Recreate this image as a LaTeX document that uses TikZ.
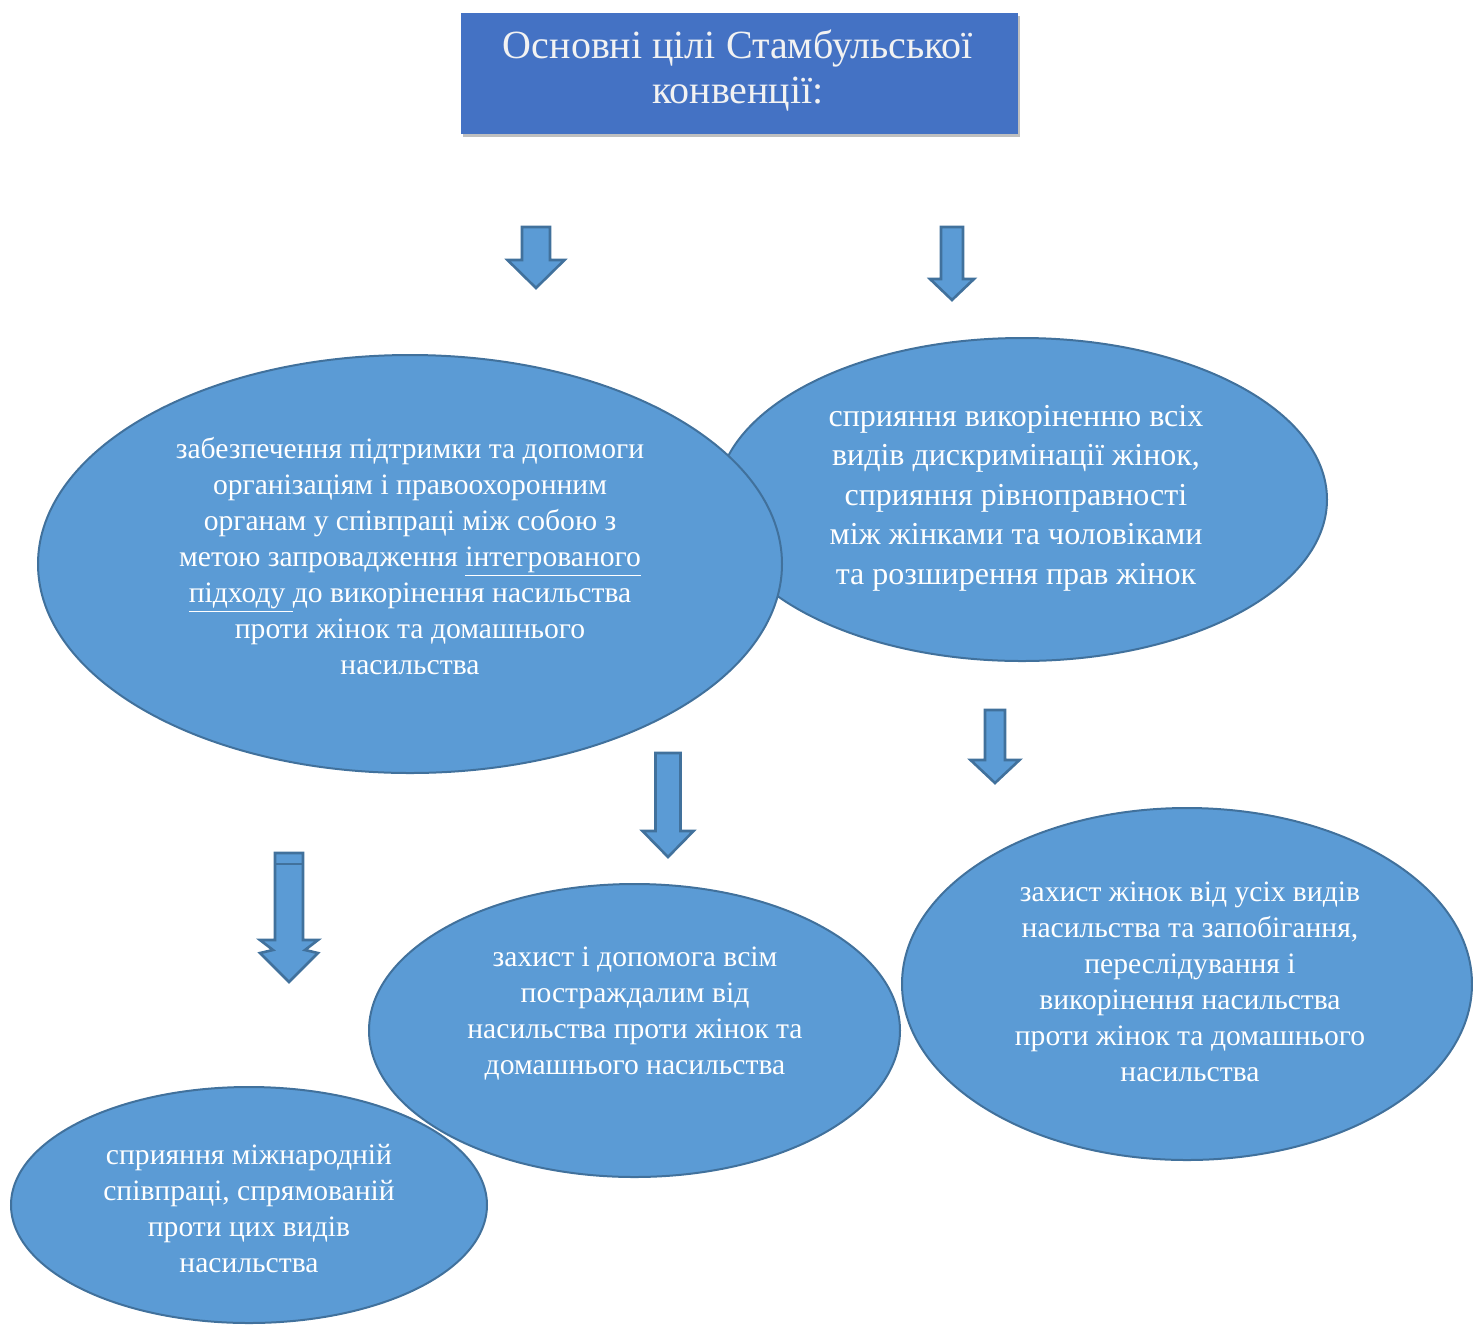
\documentclass[tikz,border=0pt]{standalone}
\usepackage{fontspec}
\setmainfont{Liberation Serif}
\usetikzlibrary{positioning,shapes.geometric}

\definecolor{goalfill}{HTML}{5B9BD5}
\definecolor{goalline}{HTML}{41719C}
\definecolor{titlefill}{HTML}{4472C4}

% block arrow pointing down: x, top, head start, tip, half shaft, half head
\newcommand{\downblock}[6]{%
  \draw[arrowbox] (#1-#5,#2) -- (#1+#5,#2) -- (#1+#5,#3) -- (#1+#6,#3)
    -- (#1,#4) -- (#1-#6,#3) -- (#1-#5,#3) -- cycle;}

\begin{document}
\begin{tikzpicture}[x=0.5pt,y=-0.5pt]
	\tikzset{
		goal/.style={ellipse,draw=goalline,fill=goalfill,line width=1pt,inner sep=0pt},
		goaltext/.style={text=white,align=center,inner sep=0pt,font=\fontsize{14.8pt}{18pt}\selectfont},
		arrowbox/.style={draw=goalline,fill=goalfill,line width=1.3pt,line join=miter}
	}
	\useasboundingbox (0,0) rectangle (1473,1324);
	% title
	\fill[black!25] (463,16) rectangle (1020,137);
	\node[rectangle,fill=titlefill,minimum width=278.5pt,minimum height=60.5pt,inner sep=0pt] (title) at (739,73.5) {};
	\node[text=black!5,align=center,font=\fontsize{20pt}{22.5pt}\selectfont] (titletext) at (738,71) {Основні цілі Стамбульської\\ конвенції:};
	% arrows
	\downblock{536}{227}{260}{288}{14}{28.5}
	\downblock{952}{227}{279}{300}{11}{22}
	\downblock{668}{753}{831}{857}{12.5}{25.5}
	\downblock{995}{710}{760}{783}{10}{24.5}
	\draw[arrowbox] (275,853) -- (303,853) -- (303,940) -- (318,940) -- (305,950) -- (318,953)
		-- (289,982) -- (260,953) -- (273,950) -- (260,940) -- (275,940) -- cycle;
	\draw[goalline,line width=1.3pt] (275,864) -- (303,864);
	% goals
	\node[goal,minimum width=305pt,minimum height=161.5pt] (e2) at (1022,499.5) {};
	\node[goal,minimum width=372pt,minimum height=209pt] (e1) at (410,564) {};
	\node[goal,minimum width=265.5pt,minimum height=146.5pt] (e3) at (634.5,1030.5) {};
	\node[goal,minimum width=285pt,minimum height=176pt] (e4) at (1187,984) {};
	\node[goal,minimum width=238pt,minimum height=118pt] (e5) at (249,1205) {};
	\node[goaltext] (t1) at (410,556) {забезпечення підтримки та допомоги\\ організаціям і правоохоронним\\ органам у співпраці між собою з\\ метою запровадження \underline{інтегрованого}\\ \underline{підходу }до викорінення насильства\\ проти жінок та домашнього\\ насильства};
	\node[goaltext,font=\fontsize{16pt}{19.75pt}\selectfont] (t2) at (1016,498) {сприяння викоріненню всіх\\ видів дискримінації жінок,\\ сприяння рівноправності\\ між жінками та чоловіками\\ та розширення прав жінок};
	\node[goaltext] (t3) at (635,1014) {захист і допомога всім\\ постраждалим від\\ насильства проти жінок та\\ домашнього насильства};
	\node[goaltext] (t4) at (1190,982) {захист жінок від усіх видів\\ насильства та запобігання,\\ переслідування і\\ викорінення насильства\\ проти жінок та домашнього\\ насильства};
	\node[goaltext] (t5) at (249,1208) {сприяння міжнародній\\ співпраці, спрямованій\\ проти цих видів\\ насильства};
\end{tikzpicture}
\end{document}
